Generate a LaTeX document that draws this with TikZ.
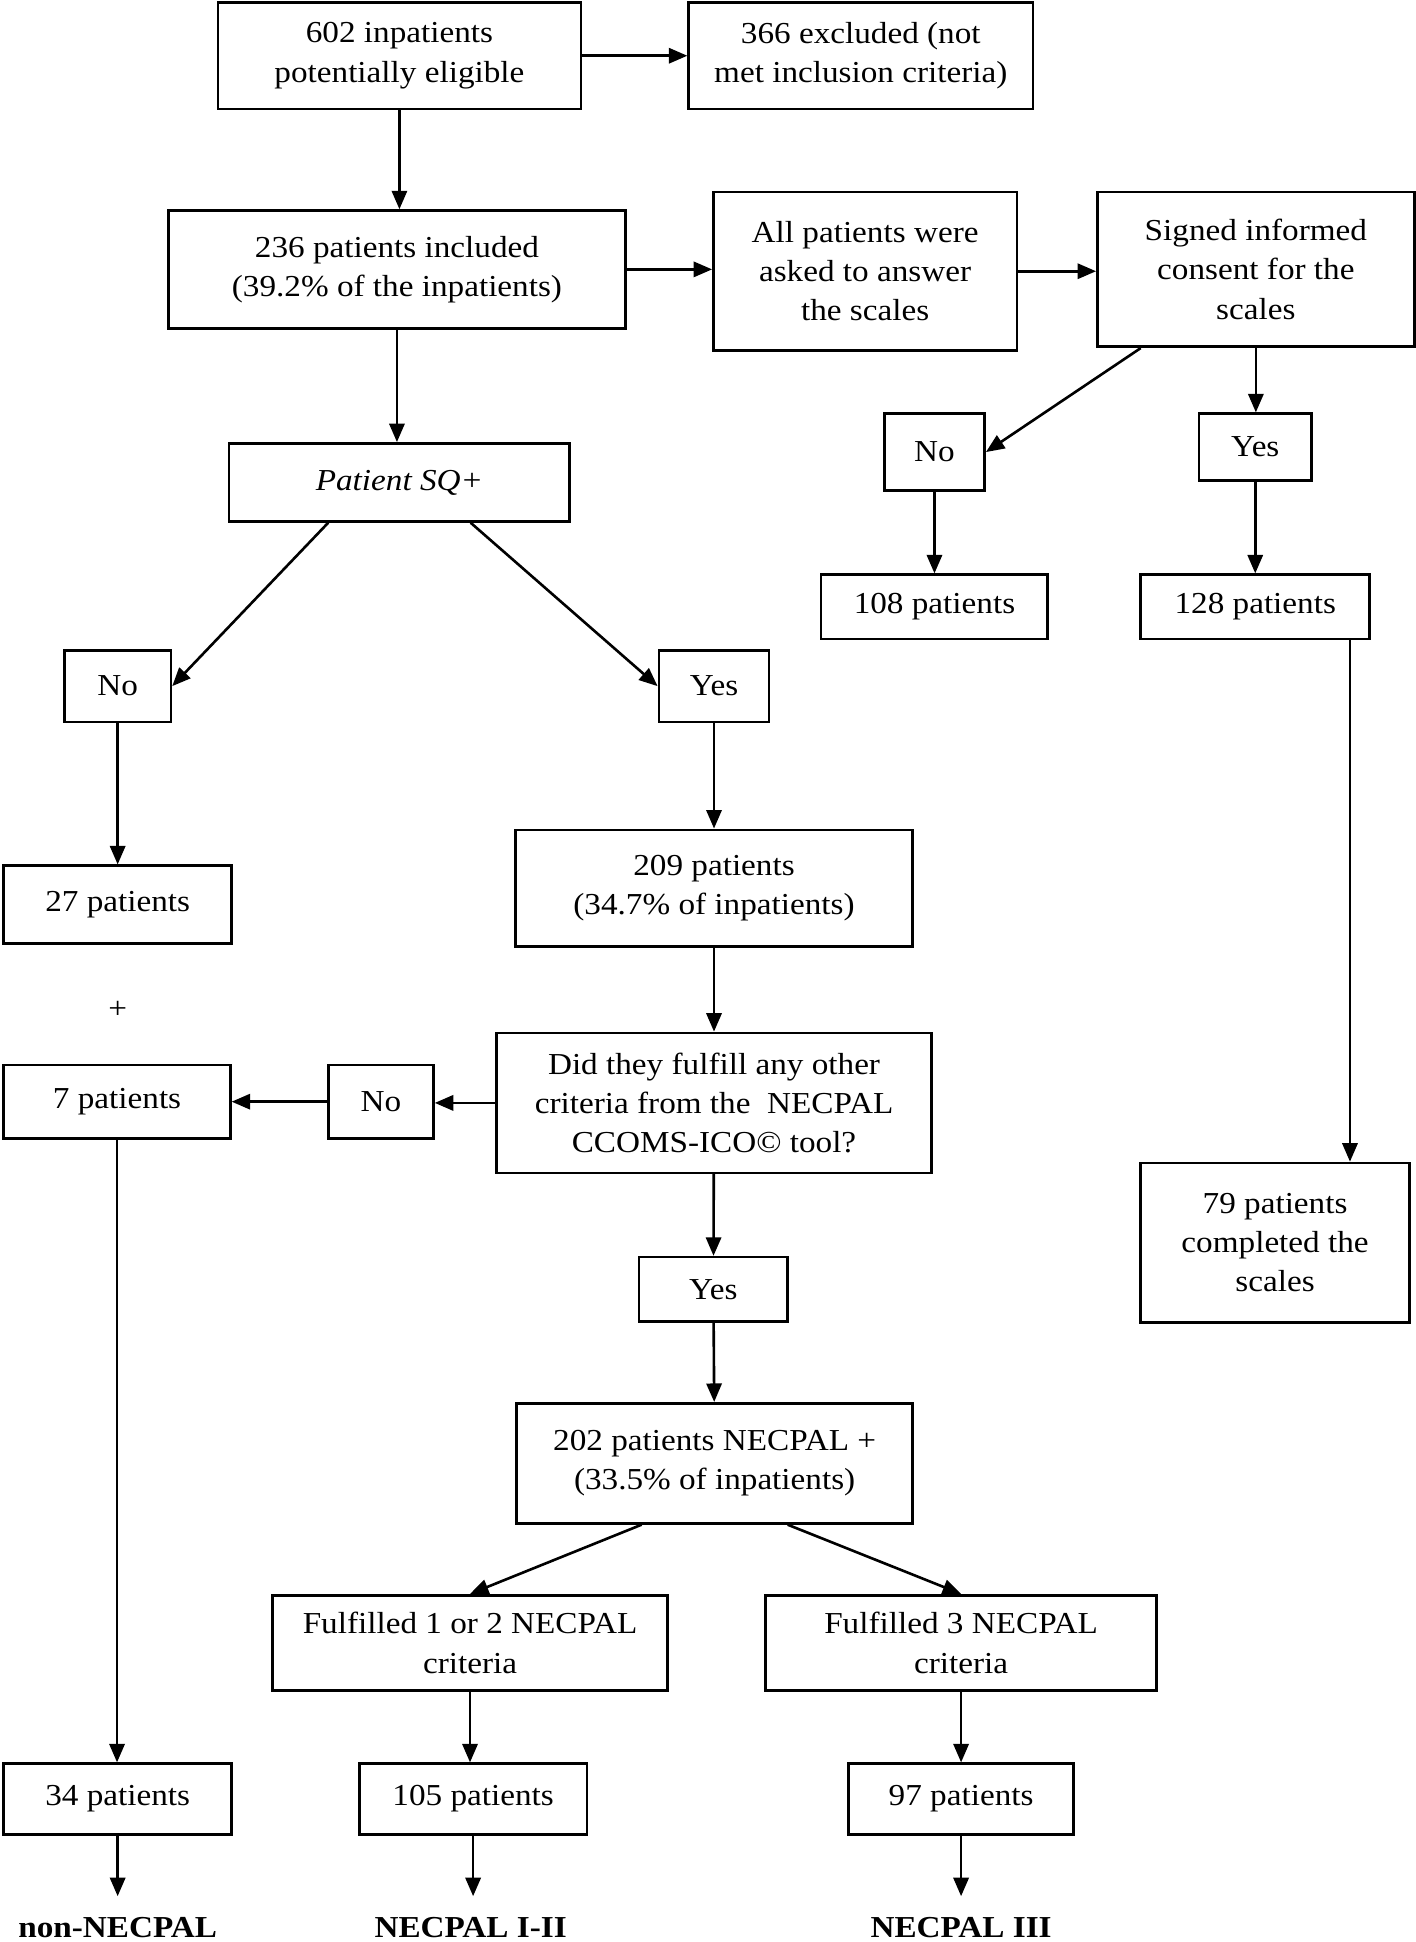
\documentclass[tikz,border=0pt]{standalone}
\usepackage{fontspec}
\setmainfont[FakeStretch=1.09]{Liberation Serif}
\usepackage{tikz}
\usetikzlibrary{positioning,arrows.meta}

\begin{document}
\begin{tikzpicture}[x=0.02cm,y=-0.02cm,line width=1.2pt,
    font=\fontsize{14}{18}\selectfont,
    >={Triangle[length=8.5pt,width=7pt]},
    box/.style={rectangle,draw,align=center,inner sep=0pt},
    result/.style={font=\fontsize{14}{18}\selectfont\bfseries,anchor=north,inner xsep=0pt,inner ysep=0.32cm}]
    \path[use as bounding box,fill=white] (0,0) rectangle (1143,1568);
    % top part
    \node[box,minimum width=5.86cm,minimum height=1.72cm] (elig) at (322.5,45) {602 inpatients\\potentially eligible};
    \node[box,minimum width=5.56cm,minimum height=1.72cm] (excl) at (695,45) {366 excluded (not\\met inclusion criteria)};
    \node[box,minimum width=7.38cm,minimum height=1.90cm] (incl) at (320.5,217.5) {236 patients included\\(39.2\% of the inpatients)};
    \node[box,minimum width=4.90cm,minimum height=2.56cm] (ask) at (698.5,219) {All patients were\\asked to answer\\the scales};
    \node[box,minimum width=5.12cm,minimum height=2.50cm] (sign) at (1014,217.5) {Signed informed\\consent for the\\scales};
    \node[box,minimum width=5.50cm,minimum height=1.26cm] (sq) at (322.5,389.5) {\textit{Patient SQ+}};
    % scales branch
    \node[box,minimum width=1.62cm,minimum height=1.24cm] (noR) at (754.5,365) {No};
    \node[box,minimum width=1.82cm,minimum height=1.08cm] (yesR) at (1013.5,361) {Yes};
    \node[box,minimum width=3.66cm,minimum height=1.04cm] (p108) at (754.5,490) {108 patients};
    \node[box,minimum width=3.70cm,minimum height=1.04cm] (p128) at (1013.5,490) {128 patients};
    \node[box,minimum width=4.34cm,minimum height=2.58cm] (p79) at (1029.5,1003.5) {79 patients\\completed the\\scales};
    % SQ branch
    \node[box,minimum width=1.72cm,minimum height=1.16cm] (noL) at (95,554) {No};
    \node[box,minimum width=1.78cm,minimum height=1.16cm] (yesM) at (576.5,554) {Yes};
    \node[box,minimum width=3.68cm,minimum height=1.26cm] (p27) at (95,730.5) {27 patients};
    \node[box,minimum width=6.42cm,minimum height=1.88cm] (p209) at (576.5,717) {209 patients\\(34.7\% of inpatients)};
    \node (plus) at (95,815) {+};
    \node[box,minimum width=3.66cm,minimum height=1.18cm] (p7) at (94.5,889.5) {7 patients};
    \node[box,minimum width=1.70cm,minimum height=1.18cm] (noM) at (307.5,889.5) {No};
    \node[box,minimum width=7.02cm,minimum height=2.26cm] (ful) at (576.5,890.5) {Did they fulfill any other\\criteria from the \ NECPAL\\CCOMS-ICO© tool?};
    \node[box,minimum width=2.40cm,minimum height=1.04cm] (yesB) at (576,1041) {Yes};
    \node[box,minimum width=6.40cm,minimum height=1.94cm] (p202) at (577,1181.5) {202 patients NECPAL +\\(33.5\% of inpatients)};
    \node[box,minimum width=6.38cm,minimum height=1.54cm] (f12) at (379.5,1326.5) {Fulfilled 1 or 2 NECPAL\\criteria};
    \node[box,minimum width=6.32cm,minimum height=1.54cm] (f3) at (776,1326.5) {Fulfilled 3 NECPAL\\criteria};
    \node[box,minimum width=3.68cm,minimum height=1.14cm] (p34) at (95,1452.5) {34 patients};
    \node[box,minimum width=3.68cm,minimum height=1.14cm] (p105) at (382,1452.5) {105 patients};
    \node[box,minimum width=3.64cm,minimum height=1.14cm] (p97) at (776,1452.5) {97 patients};
    % groups
    \node[result] (non) at (95,1531) {non-NECPAL};
    \node[result] (nec12) at (380,1531) {NECPAL I-II};
    \node[result] (nec3) at (776,1531) {NECPAL III};
    % arrows
    \draw[->] (elig) -- (excl);
    \draw[->] (elig.south) -- (elig.south |- incl.north);
    \draw[->] (incl.east) -- (incl.east -| ask.west);
    \draw[->] (ask.east) -- (ask.east -| sign.west);
    \draw[->] (incl.south) -- (incl.south |- sq.north);
    \draw[->] ([xshift=-1.86cm]sign.south) -- (noR.east);
    \draw[->] (sign.south) -- (sign.south |- yesR.north);
    \draw[->] (noR) -- (p108);
    \draw[->] (yesR) -- (p128);
    \draw[->] ([xshift=1.53cm]p128.south) -- ([xshift=1.53cm]p128.south |- p79.north);
    \draw[->] ([xshift=-1.15cm]sq.south) -- (noL.east);
    \draw[->] ([xshift=1.15cm]sq.south) -- (yesM.west);
    \draw[->] (noL) -- (p27);
    \draw[->] (yesM) -- (p209);
    \draw[->] (p209) -- (ful);
    \draw[->] (ful.west) -- (ful.west -| noM.east);
    \draw[->] (noM) -- (p7);
    \draw[->] (p7.south) -- (p7.south |- p34.north);
    \draw[->] (ful) -- (yesB);
    \draw[->] (yesB) -- (p202);
    \draw[->] ([xshift=-1.18cm]p202.south) -- (f12.north);
    \draw[->] ([xshift=1.18cm]p202.south) -- (f3.north);
    \draw[->] (f12.south) -- (f12.south |- p105.north);
    \draw[->] (f3) -- (p97);
    \draw[->] (p34) -- (non);
    \draw[->] (p105.south) -- (p105.south |- nec12.north);
    \draw[->] (p97) -- (nec3);
\end{tikzpicture}
\end{document}
